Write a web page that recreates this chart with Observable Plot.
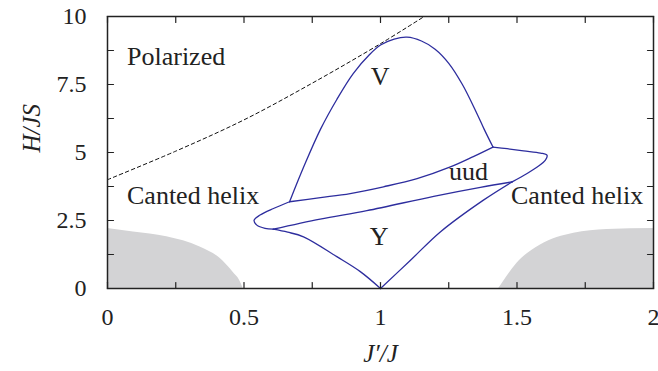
<!DOCTYPE html>
<html><head><meta charset="utf-8">
<script src="https://cdn.jsdelivr.net/npm/d3@7"></script>
<script src="https://cdn.jsdelivr.net/npm/@observablehq/plot@0.6"></script>
<style>body{margin:0;background:#fff}</style>
</head><body><div id="chart"></div>
<script>
// Axis ticks
const xTicks = [0, 0.25, 0.5, 0.75, 1, 1.25, 1.5, 1.75, 2];
const xTickLabels = [0, 0.5, 1, 1.5, 2];
const yTicks = [0, 1.25, 2.5, 3.75, 5, 6.25, 7.5, 8.75, 10];
const yTickLabels = [0, 2.5, 5, 7.5, 10];

// Saturation field (dashed)
const satJ = [0, 0.25, 0.5, 0.75, 1.0, 1.16];
const satH = [4.0, 5.05, 6.2, 7.55, 9.0, 10.0];

// Shaded regions
const grayLeftJ = [0, 0.095, 0.217, 0.339, 0.412, 0.46, 0.485, 0.497];
const grayLeftH = [2.21, 2.08, 1.90, 1.53, 1.11, 0.6, 0.28, 0];
const grayRightJ = [1.433, 1.45, 1.50, 1.586, 1.708, 1.830, 2.0];
const grayRightH = [0, 0.25, 0.93, 1.60, 2.03, 2.17, 2.21];

// Phase boundaries (blue)
const vDomeJ = [0.667, 0.72, 0.78, 0.84, 0.90, 0.96, 1.0, 1.05, 1.097, 1.15, 1.2, 1.25, 1.3, 1.35, 1.38, 1.412];
const vDomeH = [3.19, 4.50, 5.85, 6.95, 7.90, 8.60, 8.95, 9.17, 9.24, 9.10, 8.80, 8.28, 7.50, 6.50, 5.85, 5.20];
const uudTopJ = [0.667, 0.78, 0.889, 1.011, 1.134, 1.256, 1.34, 1.412];
const uudTopH = [3.19, 3.34, 3.49, 3.74, 4.04, 4.47, 4.85, 5.20];
const rightLoopJ = [1.412, 1.464, 1.524, 1.586, 1.61, 1.604, 1.574, 1.537, 1.482];
const rightLoopH = [5.20, 5.14, 5.06, 4.98, 4.90, 4.72, 4.47, 4.23, 3.92];
const uudBottomJ = [0.607, 0.779, 0.950, 1.195, 1.366, 1.482];
const uudBottomH = [2.18, 2.55, 2.86, 3.39, 3.72, 3.92];
const leftLoopJ = [0.667, 0.608, 0.559, 0.537, 0.547, 0.577, 0.607];
const leftLoopH = [3.19, 2.94, 2.70, 2.51, 2.33, 2.21, 2.18];
const yLeftJ = [0.607, 0.66, 0.718, 0.840, 0.926, 1.0];
const yLeftH = [2.18, 2.07, 1.90, 1.17, 0.62, 0];
const yRightJ = [1.0, 1.109, 1.219, 1.377, 1.482];
const yRightH = [0, 1.03, 2.08, 3.25, 3.92];

// Region labels
const labelText = ["Polarized", "V", "uud", "Y", "Canted helix", "Canted helix"];
const labelJ = [0.0715, 0.999, 1.322, 0.995, 0.0715, 1.478];
const labelH = [8.54, 7.77, 4.29, 1.90, 3.41, 3.41];
const labelAnchor = ["start", "middle", "middle", "middle", "start", "start"];

const pts = (J, H) => J.map((j, i) => ({J: j, H: H[i]}));
const labels = labelText.map((t, i) => ({t, J: labelJ[i], H: labelH[i], a: labelAnchor[i]}));

const blue = "#2d2d9e";
const segs = [
  [vDomeJ, vDomeH], [uudTopJ, uudTopH], [rightLoopJ, rightLoopH],
  [uudBottomJ, uudBottomH], [leftLoopJ, leftLoopH], [yLeftJ, yLeftH], [yRightJ, yRightH]
];

const tickShape = {draw(context, l) { context.moveTo(0, 0); context.lineTo(0, -l); }};
const tk = {length: 6, shape: tickShape, anchor: "start", stroke: "#222", strokeWidth: 1.2};

const chart = Plot.plot({
  width: 658, height: 371,
  marginLeft: 107, marginRight: 5, marginTop: 16, marginBottom: 83,
  x: {domain: [0, 2]},
  y: {domain: [0, 10]},
  style: {fontFamily: "'Liberation Serif', serif", fontSize: "24px", background: "white", color: "#222"},
  marks: [
    Plot.areaY(pts(grayLeftJ, grayLeftH), {x: "J", y: "H", fill: "#d3d3d5", curve: "monotone-x"}),
    Plot.areaY(pts(grayRightJ, grayRightH), {x: "J", y: "H", fill: "#d3d3d5", curve: "monotone-x"}),
    Plot.line(pts(satJ, satH), {x: "J", y: "H", stroke: "#111", strokeWidth: 1, strokeDasharray: "3.5,3", curve: "catmull-rom", clip: true}),
    ...segs.map(([J, H]) => Plot.line(pts(J, H), {x: "J", y: "H", stroke: blue, strokeWidth: 1.3, curve: "catmull-rom"})),
    Plot.text(labels.filter(d => d.a === "start"), {x: "J", y: "H", text: "t", textAnchor: "start", fontSize: 26, fill: "#222"}),
    Plot.text(labels.filter(d => d.a === "middle"), {x: "J", y: "H", text: "t", textAnchor: "middle", fontSize: 26, fill: "#222"}),
    // inward tick marks on all four sides
    Plot.vectorX(xTicks, {x: d => d, frameAnchor: "bottom", rotate: 0, ...tk}),
    Plot.vectorX(xTicks, {x: d => d, frameAnchor: "top", rotate: 180, ...tk}),
    Plot.vectorY(yTicks, {y: d => d, frameAnchor: "left", rotate: 90, ...tk}),
    Plot.vectorY(yTicks, {y: d => d, frameAnchor: "right", rotate: -90, ...tk}),
    // tick labels
    Plot.axisX({anchor: "bottom", ticks: xTickLabels, tickSize: 0, tickPadding: 19, tickFormat: d => String(d), label: null, fontSize: 24}),
    Plot.axisY({anchor: "left", ticks: yTickLabels, tickSize: 0, tickPadding: 21, tickFormat: d => String(d), label: null, fontSize: 24}),
    // axis titles
    Plot.text(["H/JS"], {frameAnchor: "left", dx: -76, rotate: -90, fontStyle: "italic", fontSize: 25, fill: "#222"}),
    Plot.text(["J′/J"], {frameAnchor: "bottom", dy: 73, fontStyle: "italic", fontSize: 25, fill: "#222"}),
    Plot.frame({stroke: "#222", strokeWidth: 1.5})
  ]
});
document.getElementById("chart").appendChild(chart);
</script>
</body></html>
